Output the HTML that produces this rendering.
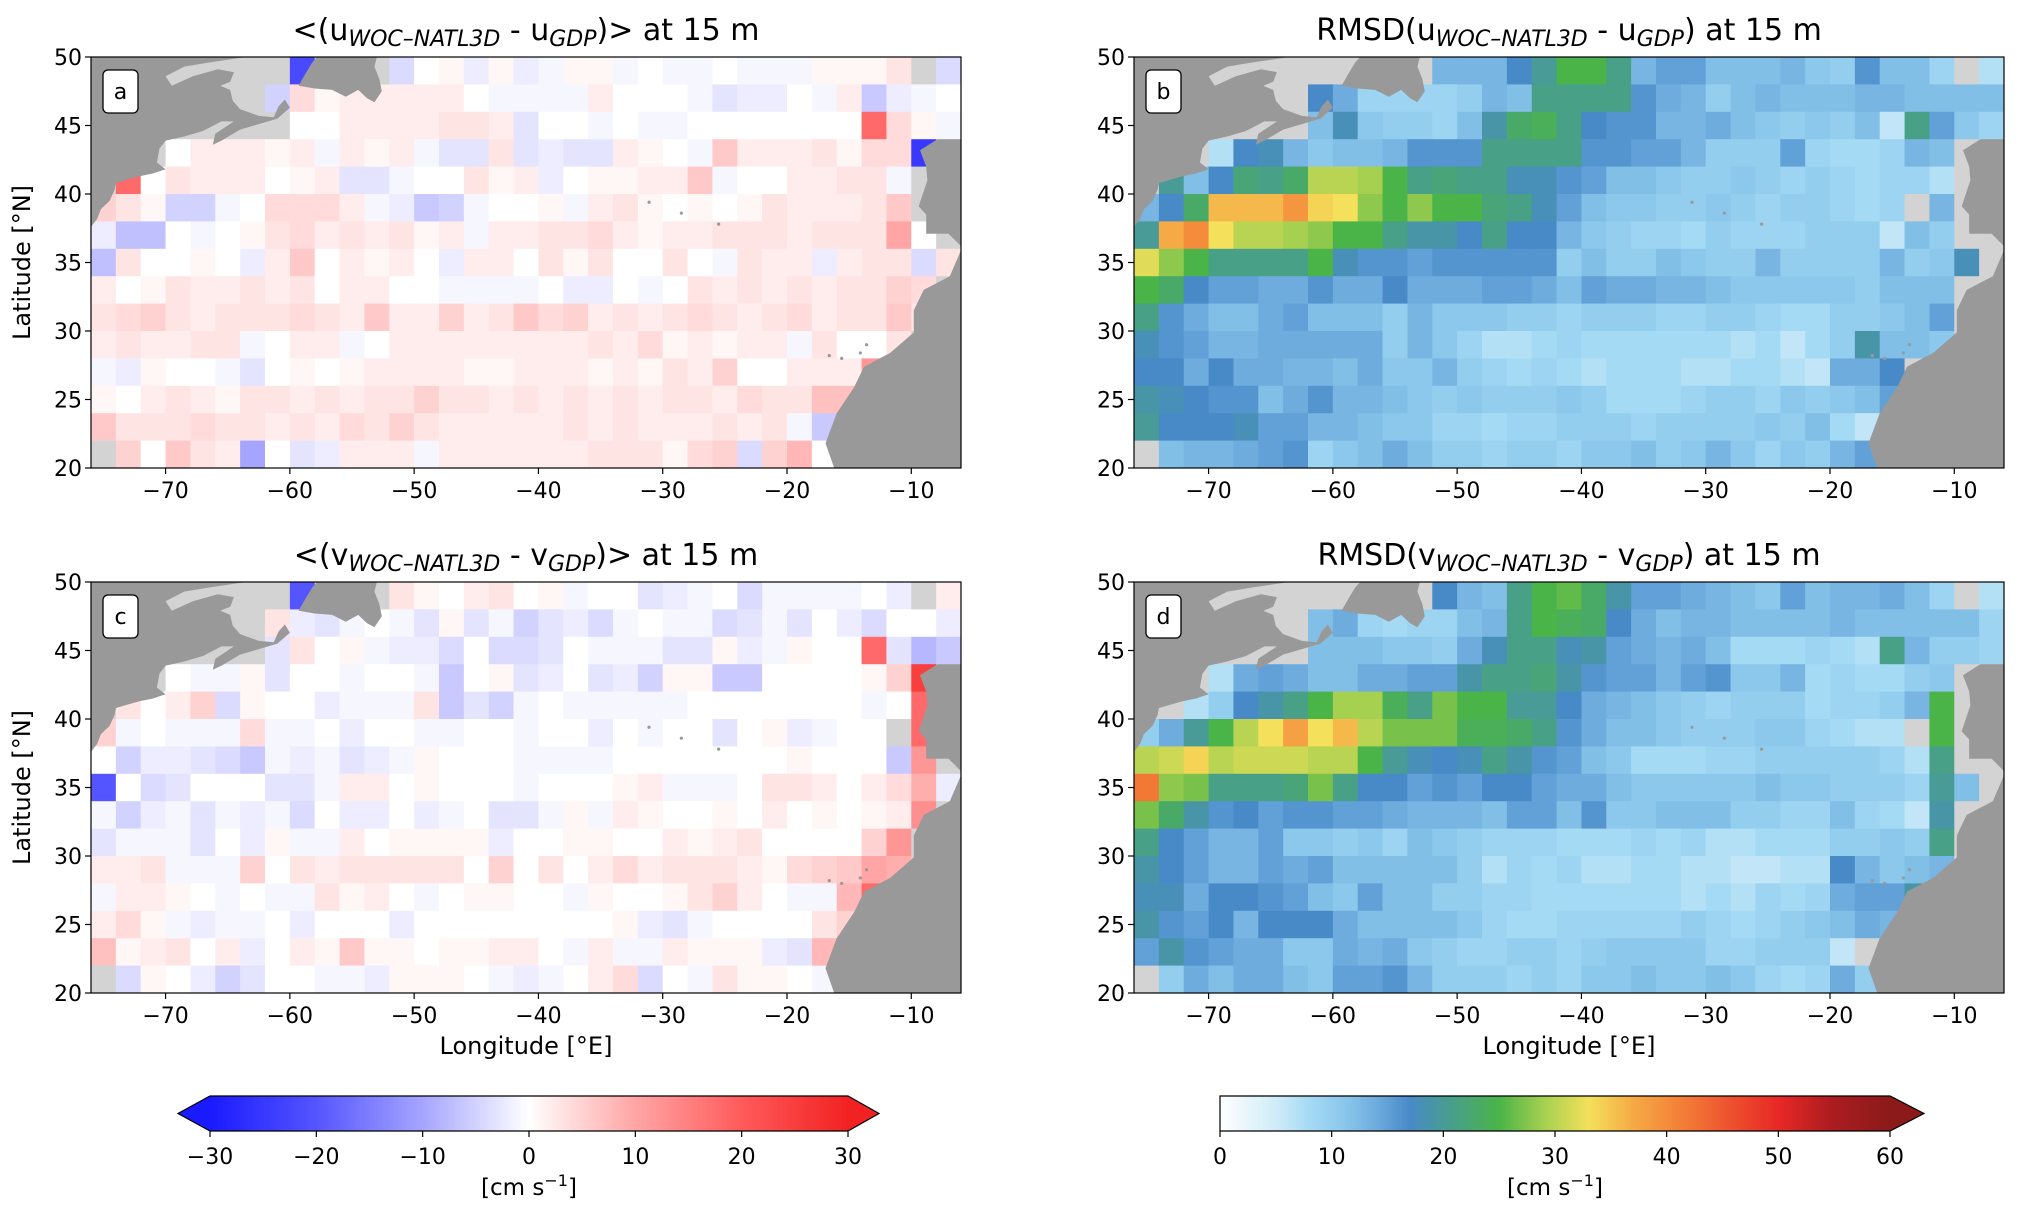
<!DOCTYPE html>
<html><head><meta charset="utf-8">
<style>
html,body{margin:0;padding:0;background:#fff;}
svg{display:block;font-family:"DejaVu Sans","Liberation Sans",sans-serif;}
</style></head>
<body>
<svg id="fig" width="2023" height="1217" viewBox="0 0 2023 1217" xmlns="http://www.w3.org/2000/svg"></svg>
<script>
const _ = null;
const lonEdgesStart = -76, lonStep = 2, nLon = 35;
const latTop = 50, latStep = 2, nLat = 15;
const xTicks = [-70,-60,-50,-40,-30,-20,-10];
const yTicks = [20,25,30,35,40,45,50];
const divTicks = [-30,-20,-10,0,10,20,30];
const rmsTicks = [0,10,20,30,40,50,60];

// Panel a: mean u difference (rows from 48-50N down to 20-22N)
const meanU = [
[_,_,_,_,_,_,_,_,-22,_,_,_,-4,0,1,-2,1,-2,-1,1,1,-1,0,-1,-1,0,-1,-1,-1,1,1,1,3,_,-4],
[_,_,_,_,_,_,_,-5,4,1,2,2,2,2,2,0,-1,-1,-1,-1,2,0,0,0,-1,-3,-2,-2,0,-1,2,-6,-2,-1,0],
[_,_,_,_,_,_,_,_,0,0,2,2,2,2,3,3,2,-3,0,0,-1,0,-1,-1,0,0,0,0,0,0,0,18,4,1,-1],
[_,_,_,0,2,2,2,1,2,-1,2,1,2,-1,-3,-3,3,-3,-2,-3,-3,2,1,0,-1,6,2,2,2,3,1,4,4,-25,_],
[_,18,0,3,2,2,2,0,1,2,-3,-3,-1,0,0,3,1,2,-2,0,1,1,2,2,6,-1,0,0,2,2,3,3,-1,_,_],
[5,3,1,-5,-5,-1,0,4,4,4,2,-1,-2,-6,-5,-1,0,0,1,-1,2,3,1,0,1,0,1,3,2,2,2,3,6,_,3],
[-2,-7,-7,0,-1,0,1,3,4,2,3,2,3,1,2,-1,2,2,3,3,4,2,1,2,2,3,3,3,2,3,3,3,10,0,_],
[-7,3,0,0,1,0,-2,2,6,0,2,1,2,0,-2,2,2,0,3,1,3,0,0,3,0,-1,3,2,2,-2,2,3,3,-4,3],
[2,0,1,3,2,2,3,2,3,0,2,2,0,0,-1,-1,-1,-1,0,-2,-2,0,-1,0,3,2,3,2,3,2,3,3,5,4,_],
[3,4,5,3,2,3,3,3,4,3,2,6,2,2,5,2,3,6,4,5,2,3,2,3,4,3,2,3,4,2,3,3,6,3,_],
[2,3,2,2,3,3,-1,0,2,2,-1,0,2,2,2,2,2,2,2,2,3,2,4,1,2,1,2,2,-1,3,0,0,3,_,_],
[-1,-2,1,0,0,-1,-3,0,1,0,1,2,2,2,2,1,1,2,2,2,1,2,1,3,2,5,0,0,2,2,2,12,_,_,_],
[1,0,2,3,2,1,3,3,2,3,2,3,3,5,3,3,2,3,2,3,2,3,2,3,3,2,4,3,3,7,7,_,_,_,_],
[6,3,3,3,4,3,3,2,3,2,4,3,5,3,2,2,2,2,2,3,2,3,2,2,2,3,2,3,-1,-6,_,_,_,_,_],
[_,5,0,6,3,2,-10,0,-3,-2,2,2,2,-1,2,2,2,2,2,2,3,3,3,1,4,5,-4,5,8,0,_,_,_,_,_]
];
// Panel b: RMSD u
const rmsdU = [
[_,_,_,_,_,_,_,_,_,_,_,_,13,13,13,17,20,25,25,21,13,15,15,12,12,12,13,11,10,16,12,12,9,_,7],
[_,_,_,_,_,_,_,17,14,9,9,9,9,10,13,12,21,21,21,21,16,14,13,10,12,13,12,12,12,13,13,12,12,12,12],
[_,_,_,_,_,_,_,12,18,11,10,10,9,12,19,23,24,21,17,16,16,13,13,14,12,11,10,11,10,12,6,21,15,11,9],
[_,_,_,7,17,18,13,11,12,12,13,16,16,16,21,21,21,21,16,16,15,15,13,10,10,10,15,9,8,8,9,13,12,_,_],
[_,20,12,17,22,21,23,30,30,29,25,21,22,21,21,18,18,16,15,12,12,11,10,10,11,10,9,10,9,8,9,9,7,_,_],
[13,17,23,36,36,36,39,34,33,28,25,28,25,25,22,21,18,15,12,11,11,10,10,11,10,9,10,10,9,8,9,_,13,_,_],
[20,37,40,33,30,30,29,28,25,25,21,19,19,17,21,17,17,13,11,10,9,9,8,10,9,9,9,10,10,10,6,12,10,_,_],
[32,28,25,21,21,21,21,25,18,16,16,15,16,16,16,16,16,10,12,10,10,12,11,10,10,13,10,10,10,10,13,10,11,18,_],
[25,23,17,15,15,14,14,16,14,14,17,14,14,14,15,15,14,12,15,14,14,13,13,12,11,11,11,11,11,10,12,12,12,_,_],
[21,16,14,12,12,14,15,12,12,12,10,13,11,11,11,10,10,9,10,10,10,9,9,10,10,9,8,8,10,10,11,12,15,_,_],
[18,16,15,13,13,14,14,14,14,14,10,13,11,9,7,7,8,9,8,8,8,8,8,8,7,8,6,8,10,19,12,12,11,_,_],
[17,17,14,17,14,14,13,13,12,14,11,11,13,10,9,8,9,8,7,8,8,8,7,7,8,8,7,6,14,14,17,_,_,_,_],
[19,18,17,16,16,12,14,16,13,13,12,11,10,11,10,10,10,11,10,8,8,8,9,10,10,9,11,10,11,12,15,15,_,_,_],
[20,17,17,17,18,15,15,13,13,12,11,11,9,9,8,9,9,10,10,10,9,10,10,10,10,11,10,12,8,6,_,_,_,_,_],
[_,12,13,13,14,15,16,9,11,12,14,12,10,10,9,10,10,9,11,11,12,10,11,13,11,9,11,10,13,15,10,_,_,_,_]
];
// Panel c: mean v difference
const meanV = [
[_,_,_,_,_,_,_,_,-20,_,_,_,3,1,0,2,3,0,1,-1,0,0,-3,-2,-1,0,-4,-1,-1,-1,-1,0,-2,_,2],
[_,_,_,_,_,_,_,3,-2,-3,-1,0,-1,-3,1,-3,-1,-5,-3,-2,-4,-1,0,-1,-1,-4,-3,-1,-3,0,-2,-4,0,0,-2],
[_,_,_,_,_,_,_,-3,3,0,1,-1,-2,-2,-4,0,-4,-4,-3,0,-1,-1,-1,-3,-3,1,-2,-1,1,0,0,18,-3,-8,-6],
[_,_,_,0,-1,-1,1,-3,0,0,-1,0,0,-1,-6,0,1,-3,-2,0,-3,-2,-5,1,1,-6,-6,0,0,0,0,1,5,25,_],
[_,3,0,2,5,-4,1,0,0,-2,-1,-1,-1,3,-6,-3,-5,-1,0,-1,-1,-1,-1,-1,0,0,0,0,0,0,0,-1,0,18,_],
[5,-1,0,-1,-1,-1,4,-1,-1,0,-2,0,0,-1,-1,0,0,-1,0,0,-2,0,-1,0,0,-3,0,1,-2,-1,0,0,_,18,_],
[0,-5,-2,-2,-3,-4,-6,-1,-2,-1,-3,-2,-1,1,0,0,0,-1,-1,-1,-1,0,0,0,0,0,0,0,1,0,0,0,-6,12,_],
[-20,0,-4,-3,0,0,0,-3,-3,-1,2,2,0,1,0,0,0,-1,0,0,0,1,2,-1,-1,-1,0,3,3,2,0,2,4,9,-2],
[-1,-5,-2,-1,-3,-1,-2,-1,-4,0,-2,-2,0,-2,-1,0,-3,-3,-1,1,-1,2,1,0,0,1,0,2,0,1,0,1,2,13,_],
[-3,-1,-1,-1,-3,0,-2,1,-1,-1,2,0,1,1,1,1,-2,0,0,1,1,0,0,2,1,2,3,0,0,0,0,5,12,_,_],
[2,2,3,-1,-1,-1,5,0,3,2,3,3,3,3,3,0,5,0,3,0,2,4,2,3,3,3,2,1,4,5,6,10,9,_,_],
[-1,2,2,1,0,-1,0,-1,-1,3,1,2,0,-1,0,1,1,0,0,-1,1,0,0,1,3,5,2,0,-1,-1,8,18,_,_,_],
[2,4,1,-1,-2,-1,-1,0,-2,0,0,0,-2,0,0,0,0,0,0,0,0,1,-2,-3,-1,0,0,0,0,3,5,_,_,_,_],
[7,1,2,3,0,2,-2,0,2,1,6,1,1,0,1,1,2,2,0,-1,2,-1,-1,2,1,1,1,-2,-3,8,_,_,_,_,_],
[_,-4,1,0,-2,-5,-3,0,0,-1,-1,-2,1,1,1,0,-1,-2,-1,0,2,4,-4,0,-1,3,1,1,0,-1,_,_,_,_,_]
];
// Panel d: RMSD v
const rmsdV = [
[_,_,_,_,_,_,_,_,_,_,_,_,17,13,12,21,25,26,23,19,15,15,14,13,12,11,15,12,13,13,14,12,9,_,7],
[_,_,_,_,_,_,_,12,14,9,8,9,9,12,13,21,25,24,23,17,14,12,13,13,12,12,12,12,13,12,12,12,12,12,9],
[_,_,_,_,_,_,_,12,12,12,11,11,10,14,18,21,21,18,19,15,14,13,14,12,8,8,8,9,8,7,21,13,10,10,9],
[_,_,_,7,14,15,14,12,12,14,14,15,15,19,21,21,22,19,16,15,15,13,15,16,11,11,13,8,9,8,8,10,11,_,_],
[_,_,7,10,17,19,21,25,29,29,24,21,27,25,25,20,20,17,14,13,12,11,10,9,10,10,10,8,9,9,10,13,25,_,_],
[10,14,20,25,30,33,38,33,36,30,27,27,27,24,24,23,21,16,14,12,12,11,10,10,10,11,11,9,8,7,7,_,25,_,_],
[30,31,34,30,31,31,31,30,30,25,20,18,17,18,21,19,16,15,12,11,8,8,8,9,9,10,10,10,10,10,9,7,21,_,_],
[42,28,27,21,21,21,22,27,21,17,17,15,16,15,17,17,15,14,14,12,11,11,11,11,11,12,11,11,10,10,10,9,20,12,_],
[27,23,19,16,17,15,16,16,15,15,14,13,13,13,12,15,15,12,16,11,11,12,12,12,10,10,9,9,12,9,8,6,19,_,_],
[21,17,15,13,13,15,11,11,10,11,9,12,11,10,9,9,9,8,8,8,9,8,9,7,7,8,8,8,10,10,11,10,21,_,_],
[19,17,15,13,13,15,14,15,12,12,12,12,12,10,7,9,8,9,7,7,8,8,7,7,6,6,7,7,17,13,11,12,13,_,_],
[18,18,14,17,17,16,15,12,11,15,12,12,10,10,9,9,8,8,8,8,8,8,7,8,7,9,8,9,14,15,15,19,_,_,_],
[19,16,15,17,13,17,17,17,14,12,12,12,12,11,9,8,8,9,9,9,9,9,10,9,8,9,10,11,12,14,13,_,_,_,_],
[15,19,16,15,14,14,11,11,14,13,14,11,10,9,9,10,10,9,10,11,11,11,11,9,9,10,10,10,6,_,_,_,_,_,_],
[_,10,14,12,14,14,12,11,15,15,16,13,10,10,10,9,10,9,11,11,12,11,11,12,11,9,8,9,14,10,_,_,_,_,_]
];

// colormaps
const divStops = [[-30,[26,26,255]],[-20,[85,85,255]],[-10,[165,165,255]],[0,[255,255,255]],[10,[255,165,165]],[20,[255,90,90]],[30,[242,34,34]]];
const rmsStops = [[0,[255,255,255]],[5,[208,236,248]],[8,[165,218,244]],[11,[140,200,236]],[14,[110,172,222]],[17,[72,138,200]],[20,[72,155,150]],[25,[74,180,72]],[29,[165,208,80]],[33,[244,224,90]],[37,[245,170,70]],[41,[243,130,55]],[45,[238,88,48]],[50,[232,40,38]],[55,[170,28,32]],[60,[140,26,26]]];
function cmap(stops,v){
  if(v<=stops[0][0]) return rgb(stops[0][1]);
  for(let i=1;i<stops.length;i++){
    if(v<=stops[i][0]){const a=stops[i-1],b=stops[i];const t=(v-a[0])/(b[0]-a[0]);
      return rgb(a[1].map((c,k)=>Math.round(c+(b[1][k]-c)*t)));}
  }
  return rgb(stops[stops.length-1][1]);
}
function rgb(a){return `rgb(${a[0]},${a[1]},${a[2]})`;}

const NS='http://www.w3.org/2000/svg';
const svg=document.getElementById('fig');
function el(tag,attrs,parent){const e=document.createElementNS(NS,tag);for(const k in attrs)e.setAttribute(k,attrs[k]);(parent||svg).appendChild(e);return e;}

const landNA=[[-76,50],[-63.5,50],[-66.5,49.6],[-68.5,49.3],[-70,48.6],[-69.5,47.9],[-67.8,48.6],[-65.8,49.1],[-64.5,48.9],[-64.8,48.2],[-65.6,47.9],[-64.8,47.6],[-64.6,46.8],[-64,46.2],[-62.5,45.7],[-61.3,45.6],[-60.9,46.4],[-60.4,46.9],[-60,46.3],[-61,45.5],[-62.5,45.1],[-64,44.7],[-65.5,43.9],[-66.2,43.6],[-66,44.4],[-64.5,45.3],[-65.5,45.3],[-67,44.6],[-68.5,44.2],[-70,43.9],[-70.5,43.3],[-70.7,42.3],[-70,41.8],[-71,41.5],[-72.1,41.3],[-74,40.8],[-74.1,40.3],[-74.5,39.5],[-75.2,38.9],[-75.5,38.2],[-76,37.6]];
const landNF=[[-59.3,47.9],[-58.8,48.7],[-58.2,49.6],[-57.8,50],[-53,50],[-53.2,49.3],[-52.8,48.4],[-52.6,47.5],[-53.2,46.7],[-53.8,47],[-54.5,47.6],[-55.5,47.1],[-56.6,47.6],[-58,47.7]];
const landIB=[[-6,44],[-7.9,44],[-9.3,43.2],[-8.8,42],[-8.7,41],[-9.4,39.1],[-8.8,38.5],[-8.8,37.1],[-7,37.1],[-6,36.2]];
const landAF=[[-6,35.9],[-6.9,34],[-9,33],[-9.8,31.5],[-9.8,29.9],[-11.7,28.4],[-13.8,27.4],[-14.6,25.9],[-16,24],[-16.9,21.8],[-16.2,20],[-6,20]];
const islands=[[-15.6,28.0],[-14.1,28.4],[-16.6,28.2],[-13.6,29.0],[-28.5,38.6],[-25.5,37.8],[-31.1,39.4]];

function drawPanel(cfg){
  const {x0,x1,y0,y1,data,stops,name,label}=cfg;
  const g=el('g',{});
  
  
  const sx=lon=>x0+(lon-(-76))*(x1-x0)/70;
  const sy=lat=>y1-(lat-20)*(y1-y0)/30;
  const clipId='clip-'+name;
  const cp=el('clipPath',{id:clipId},g);
  el('rect',{x:x0,y:y0,width:x1-x0,height:y1-y0},cp);
  const cells=el('g',{'clip-path':`url(#${clipId})`},g);
  
  
  for(let r=0;r<data.length;r++){
    const latHi=latTop-r*latStep, latLo=latHi-latStep;
    for(let c=0;c<data[r].length;c++){
      const lonLo=lonEdgesStart+c*lonStep, lonHi=lonLo+lonStep;
      const v=data[r][c];
      const xa=sx(lonLo), xb=sx(lonHi), ya=sy(latHi), yb=sy(latLo);
      const rc=el('rect',{x:xa.toFixed(2),y:ya.toFixed(2),width:(xb-xa+0.6).toFixed(2),height:(yb-ya+0.6).toFixed(2),fill:v===null?'#d3d3d3':cmap(stops,v)},cells);
      
      
    }
  }
  const land=el('g',{'clip-path':`url(#${clipId})`,fill:'#999999'},g);
  
  
  for(const poly of [landNA,landNF,landIB,landAF]){
    el('polygon',{points:poly.map(p=>sx(p[0]).toFixed(1)+','+sy(p[1]).toFixed(1)).join(' ')},land);
  }
  for(const p of islands){el('circle',{cx:sx(p[0]),cy:sy(p[1]),r:1.6},land);}
  el('rect',{x:x0,y:y0,width:x1-x0,height:y1-y0,fill:'none',stroke:'#000','stroke-width':1.2},g);
  for(const t of xTicks){
    const x=sx(t);
    el('line',{x1:x,x2:x,y1:y1,y2:y1+6,stroke:'#000','stroke-width':1.2},g);
    const tx=el('text',{x:x,y:y1+30,'text-anchor':'middle','font-size':22},g);
    tx.textContent=String(t).replace('-','\u2212');
    
    
  }
  for(const t of yTicks){
    const y=sy(t);
    el('line',{x1:x0-6,x2:x0,y1:y,y2:y,stroke:'#000','stroke-width':1.2},g);
    const ty=el('text',{x:x0-9,y:y+8,'text-anchor':'end','font-size':22},g);
    ty.textContent=String(t);
    
    
  }
  const lb=el('g',{},g);
  
  
  el('rect',{x:x0+12,y:y0+13,width:35,height:43,rx:5,fill:'#fff',stroke:'#000','stroke-width':1.3},lb);
  const lt=el('text',{x:x0+29.5,y:y0+42,'text-anchor':'middle','font-size':22},lb);
  lt.textContent=label;
  const tt=el('text',{x:(x0+x1)/2,y:y0-17,'text-anchor':'middle','font-size':30},g);
  
  
  for(const part of cfg.title){
    const ts=el('tspan',{},tt);
    if(part[1]){ts.setAttribute('font-size','22');ts.setAttribute('font-style','italic');ts.setAttribute('dy','6');}
    else if(part[2]){ts.setAttribute('dy','-6');}
    ts.textContent=part[0];
  }
}

const XA0=91,XA1=961,XB0=1134,XB1=2004,YT0=57,YT1=468,YB0=582,YB1=993;
drawPanel({x0:XA0,x1:XA1,y0:YT0,y1:YT1,data:meanU,stops:divStops,name:'panel-a',label:'a',
  title:[['<(u'],['WOC\u2013NATL3D',1],[' - u',0,1],['GDP',1],[')> at 15 m',0,1]]});
drawPanel({x0:XB0,x1:XB1,y0:YT0,y1:YT1,data:rmsdU,stops:rmsStops,name:'panel-b',label:'b',
  title:[['RMSD(u'],['WOC\u2013NATL3D',1],[' - u',0,1],['GDP',1],[') at 15 m',0,1]]});
drawPanel({x0:XA0,x1:XA1,y0:YB0,y1:YB1,data:meanV,stops:divStops,name:'panel-c',label:'c',
  title:[['<(v'],['WOC\u2013NATL3D',1],[' - v',0,1],['GDP',1],[')> at 15 m',0,1]]});
drawPanel({x0:XB0,x1:XB1,y0:YB0,y1:YB1,data:rmsdV,stops:rmsStops,name:'panel-d',label:'d',
  title:[['RMSD(v'],['WOC\u2013NATL3D',1],[' - v',0,1],['GDP',1],[') at 15 m',0,1]]});

for(const [cy,nm] of [[(YT0+YT1)/2,'y-axis-title-top'],[(YB0+YB1)/2,'y-axis-title-bottom']]){
  const t=el('text',{x:0,y:0,'text-anchor':'middle','font-size':24,transform:`translate(30,${cy}) rotate(-90)`});
  t.textContent='Latitude [°N]';
  
  
}
for(const [cx,nm] of [[(XA0+XA1)/2,'x-axis-title-left'],[(XB0+XB1)/2,'x-axis-title-right']]){
  const t=el('text',{x:cx,y:1054,'text-anchor':'middle','font-size':24});
  t.textContent='Longitude [°E]';
  
  
}

function colorbar(cfg){
  const {x0,x1,tipL,tipR,vmin,vmax,stops,ticks,name}=cfg;
  const y0=1096,y1=1131,ym=(y0+y1)/2;
  const g=el('g',{});
  
  
  const gid='grad-'+name;
  const defs=el('defs',{},g);
  const lg=el('linearGradient',{id:gid,x1:0,x2:1,y1:0,y2:0},defs);
  for(let i=0;i<=60;i++){const v=vmin+(vmax-vmin)*i/60;el('stop',{offset:(i/60).toFixed(4),'stop-color':cmap(stops,v)},lg);}
  el('rect',{x:x0,y:y0,width:x1-x0,height:y1-y0,fill:`url(#${gid})`},g);
  let outline=`M${x0},${y0} L${x1},${y0}`;
  if(tipR){el('polygon',{points:`${x1},${y0} ${tipR},${ym} ${x1},${y1}`,fill:cmap(stops,vmax+1)},g);outline+=` L${tipR},${ym} L${x1},${y1}`;}
  else outline+=` L${x1},${y1}`;
  outline+=` L${x0},${y1}`;
  if(tipL){el('polygon',{points:`${x0},${y0} ${tipL},${ym} ${x0},${y1}`,fill:cmap(stops,vmin-1)},g);outline+=` L${tipL},${ym} Z`;}
  else outline+=' Z';
  el('path',{d:outline,fill:'none',stroke:'#000','stroke-width':1.2},g);
  for(const t of ticks){
    const x=x0+(t-vmin)*(x1-x0)/(vmax-vmin);
    el('line',{x1:x,x2:x,y1:y1,y2:y1+6,stroke:'#000','stroke-width':1.2},g);
    const tx=el('text',{x:x,y:1164,'text-anchor':'middle','font-size':22},g);
    tx.textContent=String(t).replace('-','\u2212');
    
    
  }
  const u=el('text',{x:(x0+x1)/2,y:1195,'text-anchor':'middle','font-size':23},g);
  
  
  const a=el('tspan',{},u);a.textContent='[cm s';
  const b=el('tspan',{dy:-9,'font-size':16},u);b.textContent='\u22121';
  const c=el('tspan',{dy:9},u);c.textContent=']';
}
colorbar({x0:210,x1:848,tipL:178,tipR:879,vmin:-30,vmax:30,stops:divStops,ticks:divTicks,name:'colorbar-mean'});
colorbar({x0:1220,x1:1890,tipL:null,tipR:1924,vmin:0,vmax:60,stops:rmsStops,ticks:rmsTicks,name:'colorbar-rmsd'});
</script>
</body></html>
